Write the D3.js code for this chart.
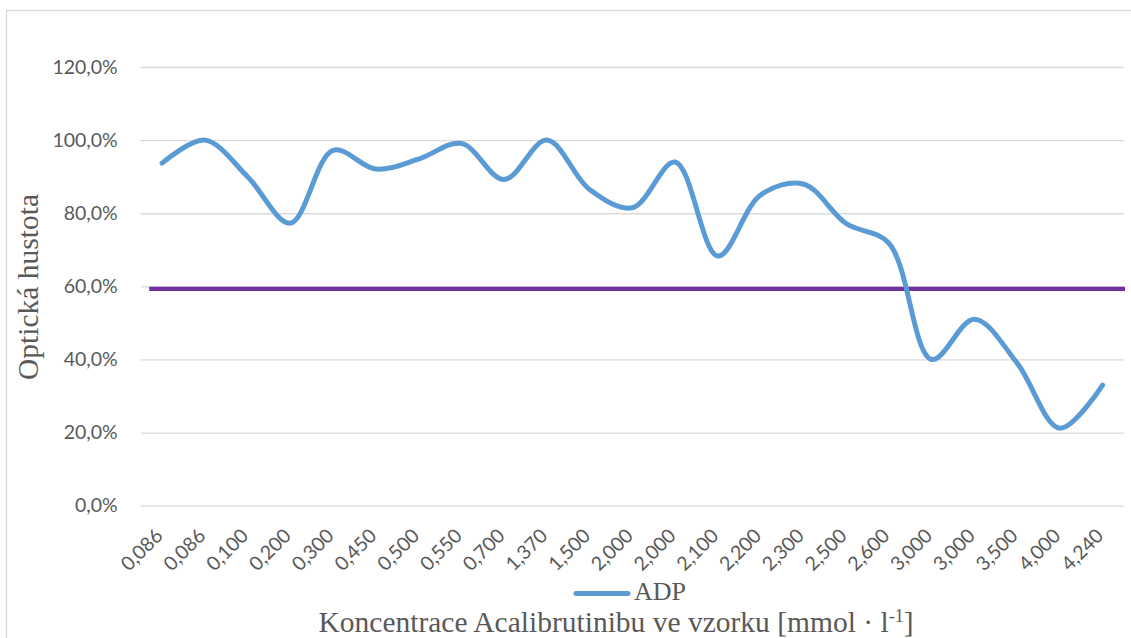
<!DOCTYPE html>
<html>
<head>
<meta charset="utf-8">
<script src="https://cdn.jsdelivr.net/npm/d3@7"></script>
<style>
  html, body { margin: 0; padding: 0; background: #fff; }
  svg { display: block; }
</style>
</head>
<body>
<svg id="chart" width="1131" height="638"></svg>
<script>
const categories = ["0,086","0,086","0,100","0,200","0,300","0,450","0,500","0,550","0,700","1,370","1,500","2,000","2,000","2,100","2,200","2,300","2,500","2,600","3,000","3,000","3,500","4,000","4,240"];
const adpValues = [93.7, 100, 90, 77.3, 97.2, 92.1, 94.8, 99.1, 89.2, 100, 86.5, 81.5, 94, 68.3, 85, 88, 77.2, 71.8, 40, 51, 39, 21.2, 33];
const thresholdValue = [59.3];
const yTicks = [0, 20, 40, 60, 80, 100, 120];
const seriesName = "ADP";
const xTitle = "Koncentrace Acalibrutinibu ve vzorku [mmol · l";
const xTitleSup = "-1";
const xTitleEnd = "]";
const yTitle = "Optická hustota";

const svg = d3.select("#chart");
const W = 1131, H = 638;
const plot = { left: 140.7, right: 1124, top: 67, bottom: 505.7 };

// outer border
svg.append("rect").attr("x", 6.5).attr("y", 10.5).attr("width", W + 10).attr("height", H + 10)
  .attr("fill", "none").attr("stroke", "#D9D9D9").attr("stroke-width", 1.3);

const x = d3.scaleBand().domain(d3.range(categories.length)).range([plot.left, plot.right]).padding(0);
const y = d3.scaleLinear().domain([0, 120]).range([plot.bottom, plot.top]);
const cx = i => x(i) + x.bandwidth() / 2;

const tickFont = "Lato, 'Open Sans', sans-serif";
const textColor = "#595959";

// gridlines
const yAxis = d3.axisLeft(y).tickValues(yTicks).tickSize(-(plot.right - plot.left)).tickPadding(23)
  .tickFormat(d => d.toFixed(1).replace(".", ",") + "%");
const gy = svg.append("g").attr("transform", `translate(${plot.left},0)`).call(yAxis);
gy.select(".domain").remove();
gy.selectAll(".tick line").attr("stroke", "#D9D9D9").attr("stroke-width", 1.3);
gy.selectAll(".tick text").attr("fill", textColor).style("font-family", tickFont).style("font-size", "19.5px");

// x tick labels
const gx = svg.append("g");
gx.selectAll("text").data(categories).join("text")
  .attr("transform", (d, i) => `translate(${cx(i) + 2},${537}) rotate(-45)`)
  .attr("text-anchor", "end")
  .attr("fill", textColor)
  .style("font-family", tickFont).style("font-size", "19.5px")
  .text(d => d);

// threshold line
svg.append("line")
  .attr("x1", plot.left + 8.5).attr("x2", plot.right + 1)
  .attr("y1", y(thresholdValue[0])).attr("y2", y(thresholdValue[0]))
  .attr("stroke", "#7030A0").attr("stroke-width", 4.3);

// ADP line
const line = d3.line().x((d, i) => cx(i)).y(d => y(d)).curve(d3.curveCatmullRom.alpha(0.5));
svg.append("path").datum(adpValues).attr("d", line)
  .attr("fill", "none").attr("stroke", "#5B9BD5").attr("stroke-width", 5)
  .attr("stroke-linecap", "round").attr("stroke-linejoin", "round");

const serif = "'Liberation Serif', 'Times New Roman', serif";

// legend
svg.append("line").attr("x1", 576).attr("x2", 628).attr("y1", 593.5).attr("y2", 593.5)
  .attr("stroke", "#5B9BD5").attr("stroke-width", 5).attr("stroke-linecap", "round");
svg.append("text").attr("x", 634).attr("y", 600).attr("fill", textColor)
  .style("font-family", serif).style("font-size", "26px").text(seriesName);

// x title
const xt = svg.append("text").attr("x", 616).attr("y", 632).attr("text-anchor", "middle").attr("fill", textColor)
  .style("font-family", serif).style("font-size", "29.5px");
xt.append("tspan").text(xTitle);
xt.append("tspan").attr("dy", -10).style("font-size", "18px").text(xTitleSup);
xt.append("tspan").attr("dy", 10).text(xTitleEnd);

// y title
svg.append("text").attr("transform", `translate(38,287) rotate(-90)`).attr("text-anchor", "middle")
  .attr("fill", textColor).style("font-family", serif).style("font-size", "29.5px").text(yTitle);
</script>
</body>
</html>
